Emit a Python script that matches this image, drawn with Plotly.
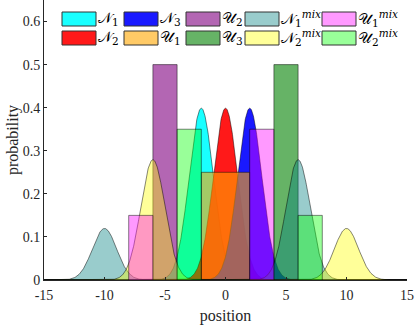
import numpy as np
import plotly.graph_objects as go

# distributions
names = ['𝒩', '𝒩', '𝒩', '𝒰', '𝒰', '𝒰', '𝒩', '𝒩', '𝒰', '𝒰']
subs = ['1', '2', '3', '1', '2', '3', '1', '2', '1', '2']
sups = ['', '', '', '', '', '', 'mix', 'mix', 'mix', 'mix']
colors = ['rgba(0,255,255,0.9)', 'rgba(255,0,0,0.9)', 'rgba(0,0,255,0.9)',
          'rgba(255,166,0,0.6)', 'rgba(128,0,128,0.6)', 'rgba(0,128,0,0.6)',
          'rgba(0,128,128,0.4)', 'rgba(255,255,0,0.4)', 'rgba(255,0,255,0.4)',
          'rgba(0,255,0,0.4)']

# gaussian components: (mean, sigma, weight)
n1 = [(-2, 1, 1.0)]
n2 = [(0, 1, 1.0)]
n3 = [(2, 1, 1.0)]
n1_mix = [(-10, 1, 0.3), (6, 1, 0.7)]
n2_mix = [(-6, 1, 0.7), (10, 1, 0.3)]

# uniform components: (low, high, density)
u1 = [(-2, 2, 0.25)]
u2 = [(-6, -4, 0.5)]
u3 = [(4, 6, 0.5)]
u1_mix = [(-8, -6, 0.15), (2, 4, 0.35)]
u2_mix = [(-4, -2, 0.35), (6, 8, 0.15)]

dists = [('n', n1), ('n', n2), ('n', n3), ('u', u1), ('u', u2), ('u', u3),
         ('n', n1_mix), ('n', n2_mix), ('u', u1_mix), ('u', u2_mix)]

x_ticks = [-15, -10, -5, 0, 5, 10, 15]
y_ticks = [0, 0.1, 0.2, 0.3, 0.4, 0.5, 0.6]

xgrid = np.linspace(-15, 15, 1201)


def normal_path(comps):
    y = np.zeros_like(xgrid)
    for m, s, w in comps:
        y += w * np.exp(-0.5 * ((xgrid - m) / s) ** 2) / (s * np.sqrt(2 * np.pi))
    return list(xgrid) + [15, -15], list(y) + [0, 0]


def uniform_path(comps):
    xs, ys = [], []
    for lo, hi, h in comps:
        xs += [lo, lo, hi, hi, lo, None]
        ys += [0, h, h, 0, 0, None]
    return xs[:-1], ys[:-1]


fig = go.Figure()
for (kind, comps), col in zip(dists, colors):
    xs, ys = normal_path(comps) if kind == 'n' else uniform_path(comps)
    fig.add_trace(go.Scatter(x=xs, y=ys, fill='toself', fillcolor=col, mode='lines',
                             line=dict(color='rgba(0,0,0,0.8)', width=0.6),
                             showlegend=False, hoverinfo='skip'))

# hand-made legend (2 rows x 5 columns, column-major)
W, H = 415, 327
ml, mr, mt, mb = 44, 8, 0, 47
pw, ph = W - ml - mr, H - mt - mb


def px(x):
    return (x - ml) / pw


def py(y):
    return 1 - (y - mt) / ph


col_left = [62, 124, 186, 245, 322]
row_top = [12, 31]
for i in range(10):
    c, r = i // 2, i % 2
    x0, y0 = col_left[c], row_top[r]
    fig.add_shape(type='rect', xref='paper', yref='paper',
                  x0=px(x0), x1=px(x0 + 34), y0=py(y0), y1=py(y0 + 14),
                  fillcolor=colors[i], line=dict(color='#333333', width=1))
    label = names[i] + '<sub>' + subs[i] + '</sub>'
    if sups[i]:
        label += '<sup><i>' + sups[i] + '</i></sup>'
    fig.add_annotation(xref='paper', yref='paper', x=px(x0 + 35), y=py(y0 + 7),
                       text=label, showarrow=False, xanchor='left', yanchor='middle',
                       borderpad=0,
                       font=dict(size=15, family='DejaVu Serif', color='black'))

axis_style = dict(showline=True, linecolor='#262626', linewidth=1, ticks='inside',
                  ticklen=3, tickcolor='#262626', showgrid=False, zeroline=False,
                  automargin=False,
                  tickfont=dict(size=14, family='Liberation Serif', color='#262626'))
fig.update_xaxes(range=[-15, 15], tickvals=x_ticks, ticktext=[str(v) for v in x_ticks],
                 ticklabelstandoff=2,
                 title=dict(text='position', standoff=8,
                            font=dict(size=16, family='Liberation Serif', color='#262626')),
                 **axis_style)
fig.update_yaxes(range=[0, 0.65], tickvals=y_ticks, ticktext=[f'{v:g}' for v in y_ticks],
                 title=dict(text='probability', standoff=0,
                            font=dict(size=16, family='Liberation Serif', color='#262626')),
                 **axis_style)
fig.update_layout(width=W, height=H, margin=dict(l=ml, r=mr, t=mt, b=mb),
                  plot_bgcolor='white', paper_bgcolor='white')
fig.write_html('out.html', config={'displayModeBar': False},
               post_script="document.body.style.margin='0';")
